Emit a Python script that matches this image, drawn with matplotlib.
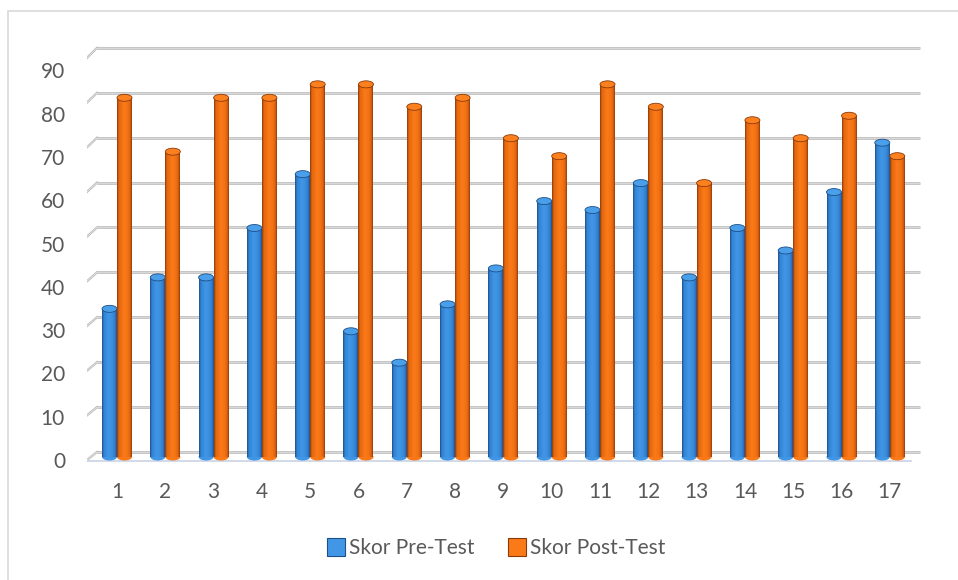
import numpy as np
import matplotlib
matplotlib.use("Agg")
import matplotlib.pyplot as plt
from matplotlib.patches import Ellipse, Rectangle
from matplotlib.colors import LinearSegmentedColormap
from matplotlib.legend_handler import HandlerPatch

plt.rcParams['font.family'] = ['Lato', 'DejaVu Sans']

categories = [str(i) for i in range(1, 18)]
pre_test = [33, 40, 40, 51, 63, 28, 21, 34, 42, 57, 55, 61, 40, 51, 46, 59, 70]
post_test = [80, 68, 80, 80, 83, 83, 78, 80, 71, 67, 83, 78, 61, 75, 71, 76, 67]
y_ticks = [0, 10, 20, 30, 40, 50, 60, 70, 80, 90]
series_names = ["Skor Pre-Test", "Skor Post-Test"]

W, H = 958, 580
fig = plt.figure(figsize=(W / 100, H / 100), dpi=100)
fig.patch.set_facecolor('white')

fig.add_artist(Rectangle((8 / W, 1 - 590 / H), 962 / W, 579 / H, transform=fig.transFigure,
                         fill=False, edgecolor='#d9d9d9', lw=1.2))

px_left, px_right, px_top, px_bot = 87, 922, 40, 465
ax = fig.add_axes([px_left / W, 1 - px_bot / H, (px_right - px_left) / W, (px_bot - px_top) / H])
k = 4.49
base_px = 457
ylim = ((base_px - px_bot) / k, (base_px - px_top) / k)
cat_w = 48.3
c0 = 117
xlim = (1 + (px_left - c0) / cat_w, 1 + (px_right - c0) / cat_w)
ax.set_xlim(*xlim)
ax.set_ylim(*ylim)
ax.axis('off')

x0, x1 = xlim
back_x = x0 + 10 / cat_w
right_x = 1 + (920 - c0) / cat_w
front_right = 1 + (911 - c0) / cat_w

for v in y_ticks:
    yb = v + 5 / k
    yf = v - (3 + 2 * v / 90) / k
    ax.plot([back_x, right_x], [yb, yb], color='#b4b4b4', lw=1.8, zorder=1, solid_capstyle='butt')
    ax.plot([back_x, right_x], [yb, yb], color='#e8e8e8', lw=0.5, zorder=1.1)
    ax.plot([x0, back_x], [yf, yb], color='#b4b4b4', lw=1.6, zorder=1)
    ax.plot([x0, back_x], [yf, yb], color='#f0f0f0', lw=0.5, zorder=1.1)
ax.plot([x0, front_right], [-4 / k, -4 / k], color='#c9d3e6', lw=1.2, zorder=1)

blue_cmap = LinearSegmentedColormap.from_list(
    'b', [(0, '#1e4f86'), (0.12, '#3282d2'), (0.45, '#4197e6'), (0.75, '#3a8bdc'), (0.9, '#2f78c4'), (1, '#1e4f86')])
orange_cmap = LinearSegmentedColormap.from_list(
    'o', [(0, '#8a3a0a'), (0.12, '#e2660f'), (0.45, '#fb7a18'), (0.75, '#f27114'), (0.9, '#d8610e'), (1, '#8a3a0a')])
grad = np.linspace(0, 1, 64).reshape(1, -1)

bw = 15 / cat_w
x = np.arange(1, len(categories) + 1)
cap_h = 7 / k


def draw_series(xpos, vals, cmap, cap_color, z):
    bars = ax.bar(xpos, vals, width=bw, color='none', edgecolor='none', zorder=z)
    for b, v in zip(bars, vals):
        bx = b.get_x()
        im = ax.imshow(grad, cmap=cmap, aspect='auto', extent=[bx, bx + bw, 0, v],
                       zorder=z, interpolation='bilinear')
        im.set_clip_path(b)
        ax.add_patch(Ellipse((bx + bw / 2, 0), bw, cap_h, facecolor=cmap(0.5), edgecolor='none', zorder=z - 0.01))
        ax.add_patch(Ellipse((bx + bw / 2, v), bw, cap_h, facecolor=cap_color, edgecolor=cmap(0.0),
                             lw=0.6, zorder=z + 0.01))
    return bars


draw_series(x - bw / 2, pre_test, blue_cmap, '#4a9fea', 3)
draw_series(x + bw / 2, post_test, orange_cmap, '#fc801e', 4)
ax.set_xlim(*xlim)
ax.set_ylim(*ylim)

for v in y_ticks:
    ypx = 462 - v * 4.33
    fig.text(65 / W, 1 - ypx / H, str(v), ha='right', va='center', fontsize=15, color='#595959')

for xi, lab in zip(x, categories):
    ax.text(xi, (base_px - 492) / k, lab, ha='center', va='center', fontsize=15, color='#595959')


class GradHandler(HandlerPatch):
    def __init__(self, cmap):
        super().__init__()
        self.cmap = cmap

    def create_artists(self, legend, orig_handle, xdescent, ydescent, width, height, fontsize, trans):
        s = 13
        r = Rectangle((width - s, (height - s) / 2), s, s, facecolor=self.cmap(0.45),
                      edgecolor=self.cmap(0.0), lw=0.8, transform=trans)
        return [r]


h1 = Rectangle((0, 0), 1, 1)
h2 = Rectangle((0, 0), 1, 1)
fig.legend([h1, h2], series_names, loc='center', bbox_to_anchor=(496 / W, 1 - 548 / H),
           ncol=2, frameon=False, fontsize=15, labelcolor='#595959', handlelength=0.9,
           handletextpad=0.2, columnspacing=1.55,
           handler_map={h1: GradHandler(blue_cmap), h2: GradHandler(orange_cmap)})

fig.savefig('out.png', dpi=100)
